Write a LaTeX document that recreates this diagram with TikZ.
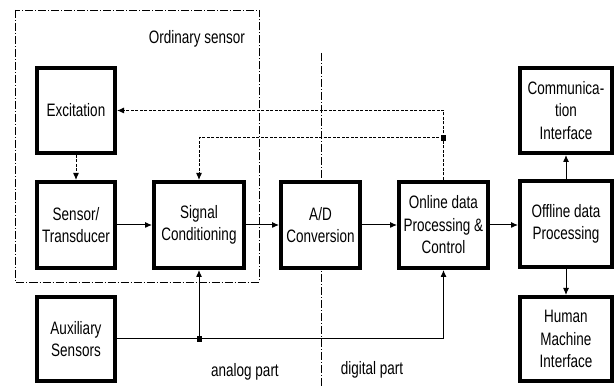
\documentclass[tikz,border=0pt]{standalone}
\usepackage{fontspec}
\setmainfont{Liberation Sans}[FakeStretch=0.75]
\usetikzlibrary{arrows.meta}
\begin{document}
\begin{tikzpicture}[x=1pt,y=-1pt,
  blk/.style={draw, fill=white, line width=4pt, outer sep=2pt, align=center, inner sep=0pt,
    font=\fontsize{18}{22.5}\selectfont},
  conn/.style={line width=1pt, -{Latex[length=7pt,width=6pt]}},
  dsh/.style={dash pattern=on 3pt off 1.5pt},
  jn/.style={fill, minimum width=5pt, minimum height=6pt, inner sep=0pt},
  frm/.style={line width=0.9pt, dash pattern=on 8pt off 2pt on 1pt off 2pt},
  lbl/.style={font=\fontsize{18}{22}\selectfont, inner sep=0pt}]
\useasboundingbox (0,0) rectangle (614,387);
% frame and division line
\coordinate (ftl) at (15.5,10);
\coordinate (fbr) at (259,282);
\draw[frm] (ftl) rectangle (fbr);
\coordinate (vt) at (321,53);
\coordinate (vb) at (321,387);
\draw[frm] (vt) -- (vb);
% blocks
\node[blk, minimum width=78pt, minimum height=85pt] (exc) at (76,110.5) {Excitation};
\node[blk, minimum width=78pt, minimum height=86pt] (sen) at (76,225) {Sensor/\\Transducer};
\node[blk, minimum width=90pt, minimum height=86pt] (sig) at (199,225) {Signal\\Conditioning};
\node[blk, minimum width=79pt, minimum height=86pt] (ad) at (320.5,225) {A/D\\Conversion};
\node[blk, minimum width=89pt, minimum height=86pt] (onl) at (443.5,225) {Online data\\Processing \&\\Control};
\node[blk, minimum width=92pt, minimum height=86pt] (off) at (566,224) {Offline data\\Processing};
\node[blk, minimum width=92pt, minimum height=85pt] (com) at (566,110.5) {Communica-\\tion\\Interface};
\node[blk, minimum width=92pt, minimum height=84pt] (hmi) at (566,339) {Human\\Machine\\Interface};
\node[blk, minimum width=78pt, minimum height=84pt] (aux) at (76,339) {Auxiliary\\Sensors};
% labels
\node[lbl] (los) at (197,39) {Ordinary sensor};
\node[lbl] (lan) at (245,372) {analog part};
\node[lbl] (ldi) at (372,370) {digital part};
% main chain
\draw[conn, dsh] (exc.south) -- (sen.north);
\draw[conn] (sen.east) -- (sig.west);
\draw[conn] (sig.east) -- (ad.west);
\draw[conn] (ad.east) -- (onl.west |- ad.east);
\draw[conn] (onl.east) -- (off.west |- onl.east);
\draw[conn] (off.north) -- (com.south);
\draw[conn] (off.south) -- (hmi.north);
% feedback
\node[jn] (j1) at (443.5,138) {};
\draw[dsh, line width=1pt] (onl.north) -- (j1.center);
\draw[conn, dsh] (j1.center) -- (j1 |- exc.east) -- (exc.east);
\draw[conn, dsh] (j1.center) -| (sig.north);
% auxiliary
\node[jn] (j2) at (sig.south |- aux.east) {};
\draw[line width=1pt] (aux.east) -- (j2.center);
\draw[conn] (j2.center) -- (sig.south);
\draw[conn] (j2.center) -| (onl.south);
\end{tikzpicture}
\end{document}
